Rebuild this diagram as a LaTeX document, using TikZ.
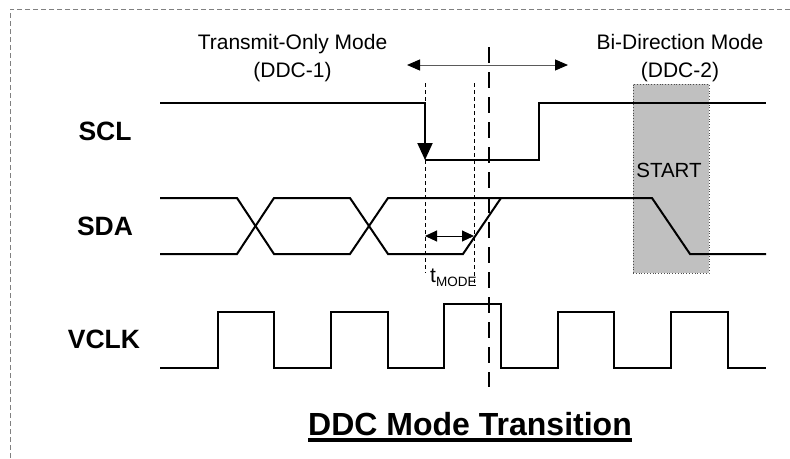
\documentclass[tikz,border=0pt]{standalone}
\usepackage{fontspec}
\setmainfont{Liberation Sans}
\usetikzlibrary{arrows.meta, positioning}
\definecolor{framegray}{RGB}{128, 128, 128}
\definecolor{boxgray}{RGB}{192, 192, 192}
\definecolor{arrowgray}{RGB}{90, 90, 90}

\begin{document}
\begin{tikzpicture}[
    x=1pt, y=-1pt,
    sigline/.style={black, line width=2pt, line join=miter},
    frame/.style={framegray, line width=1pt, dash pattern=on 5pt off 3pt},
    thindash/.style={black, line width=0.8pt, dash pattern=on 4pt off 3pt},
    markdash/.style={black, line width=2pt, dash pattern=on 16pt off 9pt},
    startbox/.style={
        draw=black!70, dotted, line width=0.8pt, fill=boxgray,
        minimum width=76pt, minimum height=189pt, inner sep=0pt
    },
    modelabel/.style={font=\fontsize{21}{28}\selectfont, align=center, inner sep=0pt},
    siglabel/.style={font=\fontsize{26.5}{30}\selectfont\bfseries, anchor=base, inner sep=0pt},
    bigtip/.style={-{Triangle[length=13pt, width=11pt, color=black]}}
]
\useasboundingbox (0,0) rectangle (790,458);

% Frame - open to the right and bottom
\draw[frame] (790,9) -- (10,9) -- (10,458);

% START window, under the signals
\node[startbox] (startwin) at (671,178.5) {};
\node[anchor=base, inner sep=0pt, font=\fontsize{20.5}{24}\selectfont] (starttxt) at (669,177) {START};

% Mode labels
\node[modelabel] (ddc1) at (292.5,58) {Transmit-Only Mode\\(DDC-1)};
\node[modelabel] (ddc2) at (680,58) {Bi-Direction Mode\\(DDC-2)};

% Signal names
\node[siglabel] (scl) at (105,140) {SCL};
\node[siglabel] (sda) at (105,235) {SDA};
\node[siglabel] (vclk) at (104,348) {VCLK};

% Timing markers
\coordinate (edgetop) at (425,83);
\coordinate (edgebot) at (425,273);
\coordinate (tmodetop) at (474,83);
\coordinate (tmodebot) at (474,285);
\coordinate (switchtop) at (489,47);
\coordinate (switchbot) at (489,387);
\draw[thindash] (edgetop) -- (edgebot);
\draw[thindash] (tmodetop) -- (tmodebot);

% SCL
\draw[sigline, -{Triangle[length=17pt, width=15pt]}] (160,103) -- (425,103) -- (425,160);
\draw[sigline] (425,160) -- (539,160) -- (539,103) -- (766,103);

% SDA
\draw[sigline] (160,198) -- (237,198) -- (274,254) -- (350,254) -- (388,198)
    -- (652,198) -- (690,254) -- (766,254);
\draw[sigline] (160,254) -- (237,254) -- (274,198) -- (350,198) -- (388,254)
    -- (463,254) -- (501,198);

% VCLK
\draw[sigline] (160,368) -- (218,368) -- (218,312) -- (274,312) -- (274,368)
    -- (331,368) -- (331,312) -- (388,312) -- (388,368)
    -- (444,368) -- (444,304) -- (501,304) -- (501,368)
    -- (558,368) -- (558,312) -- (614,312) -- (614,368)
    -- (671,368) -- (671,312) -- (728,312) -- (728,368) -- (766,368);

% Mode switch
\draw[markdash] (switchtop) -- (switchbot);
\coordinate (modeleft) at (407,65);
\coordinate (moderight) at (568,65);
\draw[arrowgray, line width=1pt,
    {Triangle[length=13pt, width=11pt, color=black]}-{Triangle[length=13pt, width=11pt, color=black]}]
    (modeleft) -- (moderight);

% tMODE
\draw[black, line width=1pt,
    {Triangle[length=12pt, width=11pt]}-{Triangle[length=12pt, width=11pt]}]
    (edgetop |- 0,236) -- (tmodetop |- 0,236);
\node[anchor=base west, inner sep=0pt, font=\fontsize{21}{24}\selectfont] (tmode) at (430,282)
    {t\raisebox{-4pt}{\fontsize{13.5}{14}\selectfont MODE}};

% Title
\node[anchor=base, inner sep=0pt, font=\fontsize{32}{36}\selectfont\bfseries] (title) at (470,435)
    {DDC Mode Transition};
\draw[black, line width=3.3pt] (title.base west |- 0,440) -- (title.base east |- 0,440);

\end{tikzpicture}
\end{document}
